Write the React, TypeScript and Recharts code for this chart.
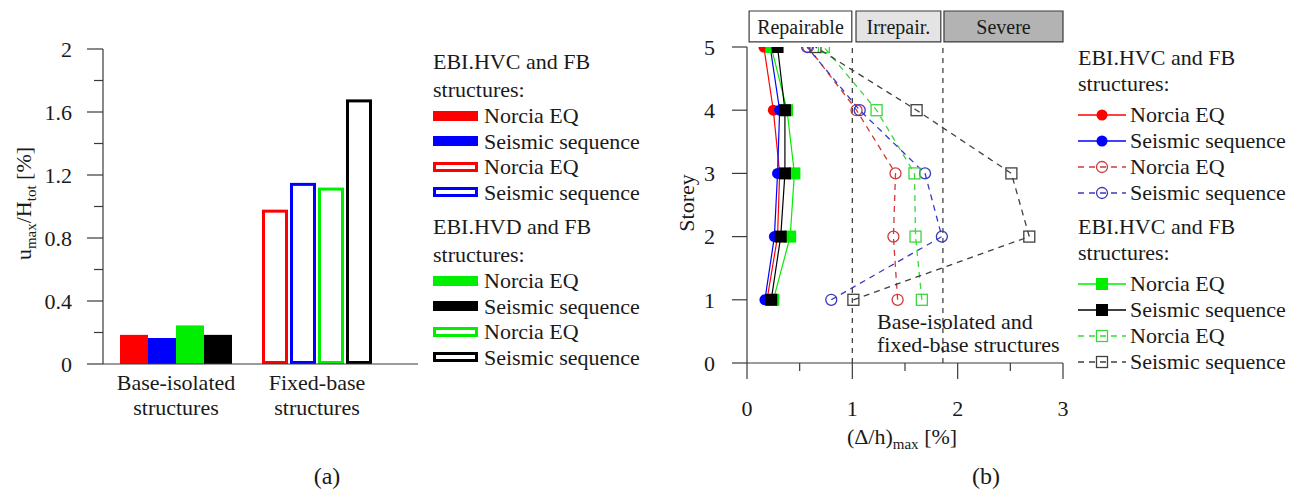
import React from 'react';
import {
  BarChart,
  Bar,
  XAxis,
  YAxis,
  ScatterChart,
  Scatter,
  ReferenceLine,
  ReferenceArea,
} from 'recharts';

const FONT = '"Liberation Serif", "Times New Roman", serif';
const TEXT = '#1a1a1a';
const AXIS = '#3a3a3a';
const FS = 22;

// ---------- Panel (a): roof drift bars ----------
const categories = ['Base-isolated structures', 'Fixed-base structures'];
const categoryLines = [
  ['Base-isolated', 'structures'],
  ['Fixed-base', 'structures'],
];
const hvcNorcia = [0.185, 0.98];
const hvcSequence = [0.165, 1.15];
const hvdNorcia = [0.245, 1.12];
const hvdSequence = [0.185, 1.68];
const barTicks = [0, 0.2, 0.4, 0.6, 0.8, 1.0, 1.2, 1.4, 1.6, 1.8, 2.0];

const barData = categories.map((name, i) => ({
  name,
  hvcNorcia: hvcNorcia[i],
  hvcSequence: hvcSequence[i],
  hvdNorcia: hvdNorcia[i],
  hvdSequence: hvdSequence[i],
}));

// ---------- Panel (b): interstorey drift profiles ----------
const storeys = [1, 2, 3, 4, 5];
const driftTicksX = [0, 0.5, 1, 1.5, 2, 2.5, 3];
const storeyTicks = [0, 1, 2, 3, 4, 5];
// base-isolated (solid)
const biHvcNorcia = [0.19, 0.29, 0.31, 0.25, 0.16];
const biHvcSequence = [0.17, 0.26, 0.29, 0.31, 0.22];
const biHvdNorcia = [0.25, 0.41, 0.45, 0.38, 0.23];
const biHvdSequence = [0.23, 0.32, 0.36, 0.36, 0.29];
// fixed-base (dashed)
const fbHvcNorcia = [1.43, 1.39, 1.41, 1.04, 0.58];
const fbHvcSequence = [0.8, 1.85, 1.69, 1.07, 0.57];
const fbHvdNorcia = [1.66, 1.6, 1.59, 1.23, 0.73];
const fbHvdSequence = [1.01, 2.68, 2.51, 1.61, 0.65];
// damage state thresholds and bands
const limitRepairable = 1.0;
const limitIrreparable = 1.86;
const damageBands = [
  { label: 'Repairable', x1: 0.02, x2: 0.995, fill: '#ffffff' },
  { label: 'Irrepair.', x1: 1.035, x2: 1.84, fill: '#e4e4e4' },
  { label: 'Severe', x1: 1.87, x2: 3.0, fill: '#b3b3b3' },
];
const bandY = [5.08, 5.57];

const toPoints = (xs: number[]) => xs.map((x, i) => ({ x, y: storeys[i] }));

const RED = '#ff0000';
const BLUE = '#0000ff';
const GREEN = '#00ee00';
const BLACK = '#000000';
const RED_D = '#d03a3a';
const BLUE_D = '#3a3ac0';
const GREEN_D = '#3ad83a';
const BLACK_D = '#404040';

// ---------- helpers ----------
const fmt = (v: number) => String(Math.round(v * 10) / 10);

const BarYTick = (props: any) => {
  const { x, y, payload } = props;
  const axisX = x + 6 + 16;
  const v = payload.value;
  const major = Math.abs(v / 0.4 - Math.round(v / 0.4)) < 1e-6;
  const len = major ? 16 : 9;
  return (
    <g>
      <line x1={axisX - len} x2={axisX} y1={y} y2={y} stroke={AXIS} strokeWidth={1.2} />
      {major && (
        <text x={axisX - 31} y={y} dy="0.35em" textAnchor="end" fill={TEXT} fontSize={FS} fontFamily={FONT}>
          {fmt(v)}
        </text>
      )}
    </g>
  );
};

const BarXTick = (props: any) => {
  const { x, y, index } = props;
  const lines = categoryLines[index] || [];
  return (
    <g>
      {lines.map((l, i) => (
        <text key={i} x={x} y={y + 26 + i * 25} textAnchor="middle" fill={TEXT} fontSize={FS} fontFamily={FONT}>
          {l}
        </text>
      ))}
    </g>
  );
};

const DriftXTick = (props: any) => {
  const { x, y, payload } = props;
  const axisY = y - 6 - 16;
  const v = payload.value;
  const major = Math.abs(v - Math.round(v)) < 1e-6;
  const len = major ? 16 : 8;
  return (
    <g>
      <line x1={x} x2={x} y1={axisY} y2={axisY + len} stroke={AXIS} strokeWidth={1.2} />
      {major && (
        <text x={x} y={axisY + 53} textAnchor="middle" fill={TEXT} fontSize={FS} fontFamily={FONT}>
          {fmt(v)}
        </text>
      )}
    </g>
  );
};

const BarYLabel = (props: any) => {
  const vb = props.viewBox || { x: 0, y: 0, width: 0, height: 0 };
  const cx = vb.x + 1;
  const cy = vb.y + vb.height / 2 - 3;
  return (
    <text transform={`translate(${cx}, ${cy}) rotate(-90)`} textAnchor="middle" dy="0.3em" fill={TEXT} fontSize={FS} fontFamily={FONT}>
      <tspan>u</tspan>
      <tspan dy={5} fontSize={15}>max</tspan>
      <tspan dy={-5}>/H</tspan>
      <tspan dy={5} fontSize={15}>tot</tspan>
      <tspan dy={-5}> [%]</tspan>
    </text>
  );
};

const StoreyLabel = (props: any) => {
  const vb = props.viewBox || { x: 0, y: 0, width: 0, height: 0 };
  const cx = vb.x - 20;
  const cy = vb.y + vb.height / 2 - 2;
  return (
    <text transform={`translate(${cx}, ${cy}) rotate(-90)`} textAnchor="middle" dy="0.3em" fill={TEXT} fontSize={FS} fontFamily={FONT}>
      Storey
    </text>
  );
};

const DriftXLabel = (props: any) => {
  const vb = props.viewBox || { x: 0, y: 0, width: 0, height: 0 };
  const cx = vb.x + vb.width / 2 - 3;
  return (
    <text x={cx} y={vb.y + 81} textAnchor="middle" fill={TEXT} fontSize={FS} fontFamily={FONT}>
      <tspan>(Δ/h)</tspan>
      <tspan dy={5} fontSize={15}>max</tspan>
      <tspan dy={-5}> [%]</tspan>
    </text>
  );
};

const makeBarShape = (color: string) => (props: any) => {
  const { x, y, width, height, index } = props;
  if (index === 0) {
    return <rect x={x} y={y} width={width} height={height} fill={color} />;
  }
  return (
    <rect x={x + 2.5} y={y + 1.5} width={Math.max(0, width - 5)} height={Math.max(0, height - 3)} fill="#ffffff" stroke={color} strokeWidth={3} />
  );
};

type MarkerKind = 'filledCircle' | 'filledSquare' | 'openCircle' | 'openSquare';

const Marker = ({ cx, cy, kind, color }: { cx: number; cy: number; kind: MarkerKind; color: string }) => {
  if (kind === 'filledCircle') return <circle cx={cx} cy={cy} r={5.5} fill={color} />;
  if (kind === 'filledSquare') return <rect x={cx - 6} y={cy - 6} width={12} height={12} fill={color} />;
  if (kind === 'openCircle') return <circle cx={cx} cy={cy} r={5.5} fill="none" stroke={color} strokeWidth={1.3} />;
  return <rect x={cx - 5.5} y={cy - 5.5} width={11} height={11} fill="none" stroke={color} strokeWidth={1.3} />;
};

const makeMarkerShape = (kind: MarkerKind, color: string) => (props: any) => (
  <Marker cx={props.cx} cy={props.cy} kind={kind} color={color} />
);

// ---------- legends ----------
type BarLegendItem = { label: string; color: string; outline: boolean };
const barLegendGroups: { title: string[]; items: BarLegendItem[] }[] = [
  {
    title: ['EBI.HVC and FB', 'structures:'],
    items: [
      { label: 'Norcia EQ', color: RED, outline: false },
      { label: 'Seismic sequence', color: BLUE, outline: false },
      { label: 'Norcia EQ', color: RED, outline: true },
      { label: 'Seismic sequence', color: BLUE, outline: true },
    ],
  },
  {
    title: ['EBI.HVD and FB', 'structures:'],
    items: [
      { label: 'Norcia EQ', color: GREEN, outline: false },
      { label: 'Seismic sequence', color: BLACK, outline: false },
      { label: 'Norcia EQ', color: GREEN, outline: true },
      { label: 'Seismic sequence', color: BLACK, outline: true },
    ],
  },
];

type LineLegendItem = { label: string; color: string; dashed: boolean; kind: MarkerKind };
const lineLegendGroups: { title: string[]; items: LineLegendItem[] }[] = [
  {
    title: ['EBI.HVC and FB', 'structures:'],
    items: [
      { label: 'Norcia EQ', color: RED, dashed: false, kind: 'filledCircle' },
      { label: 'Seismic sequence', color: BLUE, dashed: false, kind: 'filledCircle' },
      { label: 'Norcia EQ', color: RED_D, dashed: true, kind: 'openCircle' },
      { label: 'Seismic sequence', color: BLUE_D, dashed: true, kind: 'openCircle' },
    ],
  },
  {
    title: ['EBI.HVC and FB', 'structures:'],
    items: [
      { label: 'Norcia EQ', color: GREEN, dashed: false, kind: 'filledSquare' },
      { label: 'Seismic sequence', color: BLACK, dashed: false, kind: 'filledSquare' },
      { label: 'Norcia EQ', color: GREEN_D, dashed: true, kind: 'openSquare' },
      { label: 'Seismic sequence', color: BLACK_D, dashed: true, kind: 'openSquare' },
    ],
  },
];

const BarLegend = () => (
  <div style={{ position: 'absolute', left: 433, top: 48, fontFamily: FONT, fontSize: FS, color: TEXT }}>
    {barLegendGroups.map((g, gi) => (
      <div key={gi} style={{ marginTop: gi === 0 ? 0 : 8 }}>
        {g.title.map((t, ti) => (
          <div key={ti} style={{ height: 27.5, lineHeight: '27.5px', whiteSpace: 'nowrap' }}>{t}</div>
        ))}
        {g.items.map((it, ii) => (
          <div key={ii} style={{ height: 25.5, lineHeight: '25.5px', display: 'flex', alignItems: 'center', whiteSpace: 'nowrap' }}>
            <div
              style={{
                width: 45,
                height: 10,
                boxSizing: 'border-box',
                background: it.outline ? '#ffffff' : it.color,
                border: it.outline ? `3px solid ${it.color}` : 'none',
                marginRight: 6,
              }}
            />
            <span>{it.label}</span>
          </div>
        ))}
      </div>
    ))}
  </div>
);

const LineLegend = () => (
  <div style={{ position: 'absolute', left: 1078, top: 45, fontFamily: FONT, fontSize: FS, color: TEXT }}>
    {lineLegendGroups.map((g, gi) => (
      <div key={gi} style={{ marginTop: gi === 0 ? 0 : 8 }}>
        {g.title.map((t, ti) => (
          <div key={ti} style={{ height: 25.5, lineHeight: '25.5px', whiteSpace: 'nowrap' }}>{t}</div>
        ))}
        <div style={{ height: 6 }} />
        {g.items.map((it, ii) => (
          <div key={ii} style={{ height: 26, lineHeight: '26px', display: 'flex', alignItems: 'center', whiteSpace: 'nowrap' }}>
            <svg width={48} height={14} style={{ marginRight: 4 }}>
              <line x1={0} x2={48} y1={7} y2={7} stroke={it.color} strokeWidth={1.3} strokeDasharray={it.dashed ? '6 5' : undefined} />
              <Marker cx={24} cy={7} kind={it.kind} color={it.color} />
            </svg>
            <span>{it.label}</span>
          </div>
        ))}
      </div>
    ))}
  </div>
);

// ---------- series definitions for (b) ----------
const driftSeries: { name: string; xs: number[]; color: string; dashed: boolean; kind: MarkerKind }[] = [
  { name: 'FB Norcia EQ (HVC)', xs: fbHvcNorcia, color: RED_D, dashed: true, kind: 'openCircle' },
  { name: 'FB Seismic sequence (HVC)', xs: fbHvcSequence, color: BLUE_D, dashed: true, kind: 'openCircle' },
  { name: 'FB Norcia EQ (HVD)', xs: fbHvdNorcia, color: GREEN_D, dashed: true, kind: 'openSquare' },
  { name: 'FB Seismic sequence (HVD)', xs: fbHvdSequence, color: BLACK_D, dashed: true, kind: 'openSquare' },
  { name: 'EBI.HVC Norcia EQ', xs: biHvcNorcia, color: RED, dashed: false, kind: 'filledCircle' },
  { name: 'EBI.HVC Seismic sequence', xs: biHvcSequence, color: BLUE, dashed: false, kind: 'filledCircle' },
  { name: 'EBI.HVD Norcia EQ', xs: biHvdNorcia, color: GREEN, dashed: false, kind: 'filledSquare' },
  { name: 'EBI.HVD Seismic sequence', xs: biHvdSequence, color: BLACK, dashed: false, kind: 'filledSquare' },
];

export default function App() {
  return (
    <div style={{ position: 'absolute', left: 0, top: 0, width: 1290, height: 490, background: '#ffffff', fontFamily: FONT, overflow: 'hidden' }}>
      {/* Panel (a) */}
      <div style={{ position: 'absolute', left: 0, top: 0 }}>
        <BarChart
          width={420}
          height={440}
          data={barData}
          margin={{ top: 49, right: 2, bottom: 0, left: 23 }}
          barCategoryGap={14.5}
          barGap={0}
        >
          <XAxis
            dataKey="name"
            type="category"
            padding={{ left: 2.5, right: 30.5 }}
            tickLine={false}
            tickSize={0}
            tickMargin={0}
            height={76}
            axisLine={{ stroke: AXIS, strokeWidth: 1.2 }}
            tick={<BarXTick />}
            interval={0}
          />
          <XAxis xAxisId="top" orientation="top" dataKey="name" height={0} tick={false} tickLine={false} axisLine={{ stroke: AXIS, strokeWidth: 1.2 }} />
          <YAxis
            type="number"
            domain={[0, 2]}
            ticks={barTicks}
            interval={0}
            width={80}
            tickSize={16}
            tickMargin={6}
            tickLine={false}
            axisLine={{ stroke: AXIS, strokeWidth: 1.2 }}
            tick={<BarYTick />}
            label={<BarYLabel />}
          />
          <YAxis yAxisId="right" orientation="right" type="number" domain={[0, 2]} width={0} tick={false} tickLine={false} axisLine={{ stroke: AXIS, strokeWidth: 1.2 }} />
          <Bar dataKey="hvcNorcia" isAnimationActive={false} fill={RED} shape={makeBarShape(RED)} />
          <Bar dataKey="hvcSequence" isAnimationActive={false} fill={BLUE} shape={makeBarShape(BLUE)} />
          <Bar dataKey="hvdNorcia" isAnimationActive={false} fill={GREEN} shape={makeBarShape(GREEN)} />
          <Bar dataKey="hvdSequence" isAnimationActive={false} fill={BLACK} shape={makeBarShape(BLACK)} />
        </BarChart>
      </div>
      <BarLegend />

      {/* Panel (b) */}
      <div style={{ position: 'absolute', left: 660, top: 0 }}>
        <ScatterChart width={420} height={470} margin={{ top: 47, right: 17, bottom: 0, left: 47 }}>
          <XAxis
            type="number"
            dataKey="x"
            domain={[0, 3]}
            ticks={driftTicksX}
            interval={0}
            allowDataOverflow
            height={107}
            tickSize={16}
            tickMargin={6}
            tickLine={false}
            axisLine={{ stroke: AXIS, strokeWidth: 1.2 }}
            tick={<DriftXTick />}
            label={<DriftXLabel />}
          />
          <XAxis xAxisId="top" orientation="top" type="number" domain={[0, 3]} height={0} tick={false} tickLine={false} axisLine={{ stroke: AXIS, strokeWidth: 1.2 }} />
          <YAxis
            type="number"
            dataKey="y"
            domain={[0, 5]}
            ticks={storeyTicks}
            interval={0}
            allowDataOverflow
            width={40}
            tickSize={15}
            tickMargin={17}
            tickLine={{ stroke: AXIS, strokeWidth: 1.2 }}
            axisLine={{ stroke: AXIS, strokeWidth: 1.2 }}
            tick={{ fill: TEXT, fontSize: FS, fontFamily: FONT }}
            label={<StoreyLabel />}
          />
          <YAxis yAxisId="right" orientation="right" type="number" domain={[0, 5]} width={0} tick={false} tickLine={false} axisLine={{ stroke: AXIS, strokeWidth: 1.2 }} />
          {damageBands.map((b) => (
            <ReferenceArea
              key={b.label}
              x1={b.x1}
              x2={b.x2}
              y1={bandY[0]}
              y2={bandY[1]}
              ifOverflow="visible"
              fill={b.fill}
              fillOpacity={1}
              stroke="#3a3a3a"
              strokeWidth={1.2}
              label={{ value: b.label, position: 'center', fill: TEXT, fontSize: 20, fontFamily: FONT }}
            />
          ))}
          <ReferenceLine x={limitRepairable} stroke="#444" strokeWidth={1.3} strokeDasharray="5 5" />
          <ReferenceLine x={limitIrreparable} stroke="#444" strokeWidth={1.3} strokeDasharray="5 5" />
          {driftSeries.map((s) => (
            <Scatter
              key={s.name}
              name={s.name}
              data={toPoints(s.xs)}
              fill={s.color}
              isAnimationActive={false}
              line={{ stroke: s.color, strokeWidth: s.dashed ? 1.3 : 1.2, strokeDasharray: s.dashed ? '6 5' : undefined }}
              lineType="joint"
              shape={makeMarkerShape(s.kind, s.color)}
            />
          ))}
        </ScatterChart>
      </div>
      <div style={{ position: 'absolute', left: 877, top: 310, fontFamily: FONT, fontSize: FS, color: TEXT, lineHeight: '23px', whiteSpace: 'nowrap' }}>
        <div>Base-isolated and</div>
        <div>fixed-base structures</div>
      </div>
      <LineLegend />

      {/* captions */}
      <div style={{ position: 'absolute', left: 295, top: 462, width: 64, textAlign: 'center', fontFamily: FONT, fontSize: 24, lineHeight: '28px', color: TEXT }}>(a)</div>
      <div style={{ position: 'absolute', left: 954, top: 462, width: 64, textAlign: 'center', fontFamily: FONT, fontSize: 24, lineHeight: '28px', color: TEXT }}>(b)</div>
    </div>
  );
}
